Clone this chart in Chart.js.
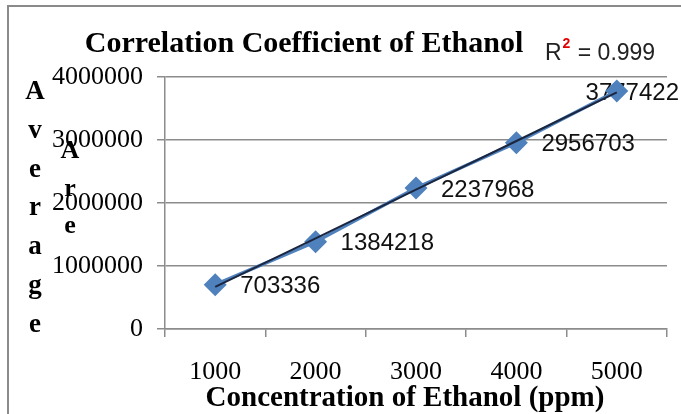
<!DOCTYPE html>
<html>
<head>
<meta charset="utf-8">
<script src="https://cdn.jsdelivr.net/npm/chart.js@4.4.1/dist/chart.umd.min.js"></script>
<style>
  html, body { margin: 0; padding: 0; background: #fff; }
  #wrap { width: 681px; height: 414px; }
</style>
</head>
<body>
<div id="wrap"><canvas id="ethanol-chart"></canvas></div>
<script>
const concentrations = ['1000', '2000', '3000', '4000', '5000']
const averageArea = [703336, 1384218, 2237968, 2956703, 3777422]
const trendValues = [668000, 1440000, 2212000, 2984000, 3756000]
const yTickValues = [0, 1000000, 2000000, 3000000, 4000000]

const chartTitle = 'Correlation Coefficient of Ethanol'
const xTitle = 'Concentration of Ethanol (ppm)'
const yTitle = 'Average'
const rSquared = '0.999'

const SERIF = "'Liberation Serif', 'Times New Roman', serif"
const SANS = "'Liberation Sans', Arial, sans-serif"
const GRID = '#8c8c8c'

initChart()

function initChart() {
  const ctx = document.getElementById('ethanol-chart')

  new Chart(ctx, {
    type: 'line',
    data: {
      labels: concentrations,
      datasets: [
        {
          label: 'Average',
          data: averageArea,
          borderColor: '#4f81bd',
          backgroundColor: '#4f81bd',
          borderWidth: 3.5,
          pointStyle: 'rectRot',
          pointRadius: 9,
          pointHoverRadius: 9,
          pointBackgroundColor: '#4f81bd',
          pointBorderColor: '#4f81bd',
          order: 1,
        },
        {
          label: 'Linear trend',
          data: trendValues,
          borderColor: '#1b2640',
          borderWidth: 2,
          pointRadius: 0,
          order: 0,
        },
      ],
    },
    options: {
      responsive: true,
      maintainAspectRatio: false,
      animation: false,
      layout: {
        padding: { top: 77, right: 14, left: 0, bottom: 0 },
      },
      plugins: {
        legend: { display: false },
        title: { display: false },
        tooltip: { enabled: false },
      },
      scales: {
        x: {
          type: 'category',
          offset: true,
          afterFit: (scale) => {
            scale.height = 85
          },
          grid: {
            drawOnChartArea: false,
            drawTicks: true,
            tickLength: 8,
            color: GRID,
            lineWidth: 1.5,
            offset: true,
          },
          border: { color: GRID, width: 1.5 },
          ticks: {
            color: '#000',
            padding: 20,
            maxRotation: 0,
            font: { family: SERIF, size: 26 },
          },
        },
        y: {
          min: 0,
          max: 4000000,
          afterFit: (scale) => {
            scale.width = 165
          },
          afterBuildTicks: (scale) => {
            scale.ticks = yTickValues.map((v) => ({ value: v }))
          },
          grid: {
            color: GRID,
            lineWidth: 1.5,
            tickLength: 8,
          },
          border: { color: GRID, width: 1.5 },
          ticks: {
            color: '#000',
            padding: 14,
            callback: (v) => String(v),
            font: { family: SERIF, size: 26 },
          },
        },
      },
    },
    plugins: [pointLabels(), decorations()],
  })
}

/**
 * Value labels to the right of each diamond, kept inside the canvas
 */
function pointLabels() {
  return {
    id: 'pointLabels',
    beforeDatasetsDraw(chart) {
      const c = chart.ctx
      const meta = chart.getDatasetMeta(0)
      c.save()
      c.font = `24px ${SANS}`
      c.fillStyle = '#111'
      c.textAlign = 'left'
      c.textBaseline = 'middle'
      meta.data.forEach((pt, i) => {
        const text = String(averageArea[i])
        const w = c.measureText(text).width
        let x = pt.x + 25
        if (x + w > chart.width - 2) x = chart.width - 2 - w
        c.fillText(text, x, pt.y + 2)
      })
      c.restore()
    },
  }
}

/**
 * Frame, titles, R squared note and the stacked y axis title
 */
function decorations() {
  return {
    id: 'decorations',
    afterDraw(chart) {
      const c = chart.ctx
      c.save()

      c.strokeStyle = '#8a8a8a'
      c.lineWidth = 2
      c.strokeRect(8, 6, chart.width + 10, chart.height + 10)

      c.fillStyle = '#000'
      c.textAlign = 'center'
      c.textBaseline = 'alphabetic'
      c.font = `bold 30px ${SERIF}`
      c.fillText(chartTitle, 304, 52)

      c.font = `bold 29px ${SERIF}`
      c.fillText(xTitle, 405, 406)

      // R² = 0.999
      c.textAlign = 'left'
      c.font = `23px ${SANS}`
      c.fillStyle = '#222'
      c.fillText('R', 545, 60)
      const rw = c.measureText('R').width
      c.font = `bold 14px ${SANS}`
      c.fillStyle = '#e00000'
      c.fillText('2', 545 + rw + 1, 48)
      const sw = c.measureText('2').width
      c.font = `23px ${SANS}`
      c.fillStyle = '#222'
      c.fillText(' = ' + rSquared, 545 + rw + sw + 2, 60)

      // stacked axis title, one letter per line
      c.fillStyle = '#000'
      c.textAlign = 'center'
      c.font = `bold 27px ${SERIF}`
      yTitle.split('').forEach((ch, i) => {
        c.fillText(i === 0 ? 'A' : ch, 35, 99 + i * 38.8)
      })
      // second, misplaced copy that shows through the tick labels
      c.font = `bold 26px ${SERIF}`
      ;['A', 'r', 'e'].forEach((ch, i) => {
        c.fillText(ch, 70, 158 + i * 37.5)
      })

      c.restore()
    },
  }
}
</script>
</body>
</html>
